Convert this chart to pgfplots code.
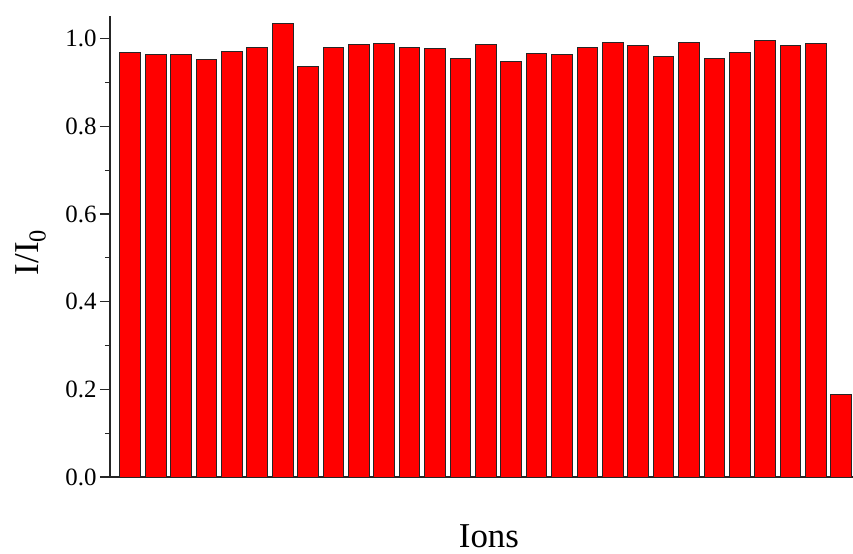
\documentclass[border=0pt]{standalone}
\usepackage{pgfplots}
\pgfplotsset{compat=1.18}
\usepackage{fontspec}
\setmainfont{Liberation Serif}
\begin{document}
\begin{tikzpicture}
\useasboundingbox (-110bp,-77bp) rectangle (743bp,477bp);
\begin{axis}[
  scale only axis,
  width=743bp, height=461bp,
  at={(0,0)}, anchor=south west,
  xmin=-0.8, xmax=28.46,
  ymin=0, ymax=1.052,
  axis x line=bottom, axis y line=left,
  axis line style={-, line width=1.2bp, black!85},
  xtick=\empty,
  ytick={0,0.2,0.4,0.6,0.8,1.0},
  minor ytick={0.1,0.3,0.5,0.7,0.9},
  tick align=outside,
  major tick length=10bp, minor tick length=5bp,
  tick style={line width=1.2bp, black!85},
  /pgf/number format/assume math mode=true,
  yticklabel style={/pgf/number format/.cd, fixed, fixed zerofill, precision=1},
  ticklabel style={font=\fontsize{25}{25}\selectfont},
  ylabel={I/I\textsubscript{0}},
  xlabel={Ions},
  label style={font=\fontsize{35}{35}\selectfont},
  ylabel style={at={(axis description cs:-0.107,0.487)}, anchor=center, rotate=0},
  xlabel style={at={(axis description cs:0.51,-0.152)}, anchor=base},
  clip=false,
]
\addplot[ybar, bar width=0.815, fill={rgb,255:red,255;green,0;blue,0}, draw=black!85, line width=1bp]
coordinates {
(0,0.968) (1,0.963) (2,0.965) (3,0.952) (4,0.971) (5,0.979) (6,1.036) (7,0.937)
(8,0.981) (9,0.988) (10,0.989) (11,0.979) (12,0.977) (13,0.955) (14,0.986) (15,0.949)
(16,0.966) (17,0.963) (18,0.981) (19,0.992) (20,0.985) (21,0.960) (22,0.992) (23,0.956)
(24,0.968) (25,0.996) (26,0.984) (27,0.989) (28,0.188)
};
\end{axis}
\end{tikzpicture}
\end{document}
